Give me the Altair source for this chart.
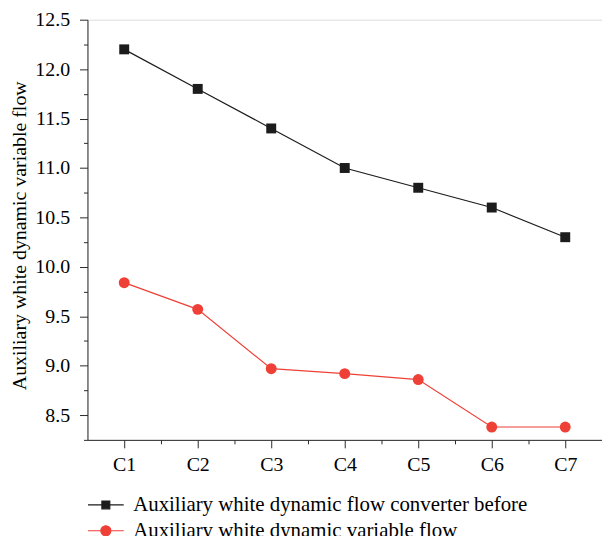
import json
import altair as alt
import pandas as pd

categories = ["C1", "C2", "C3", "C4", "C5", "C6", "C7"]
series_names = [
    "Auxiliary white dynamic flow converter before",
    "Auxiliary white dynamic variable flow",
]
before_values = [12.2, 11.8, 11.4, 11.0, 10.8, 10.6, 10.3]
variable_values = [9.84, 9.57, 8.97, 8.92, 8.86, 8.38, 8.38]
y_major_ticks = [8.5, 9.0, 9.5, 10.0, 10.5, 11.0, 11.5, 12.0, 12.5]
y_minor_ticks = [8.25, 8.75, 9.25, 9.75, 10.25, 10.75, 11.25, 11.75, 12.25]
x_major_ticks = [1, 2, 3, 4, 5, 6, 7]
x_minor_ticks = [1.5, 2.5, 3.5, 4.5, 5.5, 6.5]
colors = ["#1c1c1c", "#ee4037"]
legend_paths = [
    "M-2,0H2M-0.44,-0.44H0.44V0.44H-0.44Z",
    "M-2,0H2M0.56,0A0.56,0.56,0,1,1,-0.56,0A0.56,0.56,0,1,1,0.56,0Z",
]

rows = []
for i, c in enumerate(categories):
    rows.append({"cat": c, "idx": i + 1, "series": series_names[0], "value": before_values[i]})
for i, c in enumerate(categories):
    rows.append({"cat": c, "idx": i + 1, "series": series_names[1], "value": variable_values[i]})
df = pd.DataFrame(rows)

FONT = "Liberation Serif"
AX = "#2a2a2a"

x_scale = alt.Scale(domain=[0.5, 7.5], nice=False, zero=False)
y_scale = alt.Scale(domain=[8.25, 12.5], nice=False, zero=False)

x_major = alt.X(
    "idx:Q", scale=x_scale,
    axis=alt.Axis(values=x_major_ticks, labelExpr=json.dumps(categories) + "[datum.value-1]",
                  tickSize=8, labelPadding=7, labelFont=FONT, labelFontSize=20,
                  labelColor="black", domainColor=AX, tickColor=AX, grid=False, title=None,
                  orient="bottom"),
)
y_major = alt.Y(
    "value:Q", scale=y_scale,
    axis=alt.Axis(values=y_major_ticks, format=".1f", tickSize=8, labelPadding=10,
                  labelFont=FONT, labelFontSize=20, labelColor="black",
                  domainColor=AX, tickColor=AX, grid=False,
                  title="Auxiliary white dynamic variable flow", titleFont=FONT,
                  titleFontSize=20, titleFontWeight="normal", titleColor="black",
                  titlePadding=5, titleY=217, orient="left"),
)
x_minor = alt.X(
    "idx:Q", scale=x_scale,
    axis=alt.Axis(values=x_minor_ticks, tickSize=4, labels=False, domain=False,
                  tickColor=AX, grid=False, title=None, orient="bottom"),
)
y_minor = alt.Y(
    "value:Q", scale=y_scale,
    axis=alt.Axis(values=y_minor_ticks, tickSize=4, labels=False, domain=False,
                  tickColor=AX, grid=False, title=None, orient="left"),
)
x_none = alt.X("idx:Q", scale=x_scale, axis=None)
y_none = alt.Y("value:Q", scale=y_scale, axis=None)

base = alt.Chart(df)
s0 = base.transform_filter(alt.datum.series == series_names[0])
s1 = base.transform_filter(alt.datum.series == series_names[1])

line0 = s0.mark_line(strokeWidth=1.2, color=colors[0]).encode(x=x_major, y=y_major)
line1 = s1.mark_line(strokeWidth=1.2, color=colors[1]).encode(x=x_minor, y=y_minor)
squares = s0.mark_point(shape="square", filled=True, size=100, opacity=1,
                        color=colors[0]).encode(x=x_none, y=y_none)
circles = s1.mark_point(shape="circle", filled=True, size=121, opacity=1,
                        color=colors[1]).encode(x=x_none, y=y_none)

leg = dict(
    orient="none", legendX=8, legendY=478, title=None, symbolSize=324,
    symbolStrokeWidth=1.2, symbolOpacity=1, labelFont=FONT, labelFontSize=21,
    labelColor="black", labelOffset=17, rowPadding=4, padding=0, labelLimit=700,
    direction="vertical",
)

legend_layer = base.mark_point(filled=True, opacity=0).encode(
    x=x_none, y=y_none,
    fill=alt.Fill("series:N", scale=alt.Scale(domain=series_names, range=colors), legend=alt.Legend(**leg)),
    stroke=alt.Stroke("series:N", scale=alt.Scale(domain=series_names, range=colors), legend=alt.Legend(**leg)),
    shape=alt.Shape("series:N", scale=alt.Scale(domain=series_names, range=legend_paths), legend=alt.Legend(**leg)),
)

chart = alt.layer(line0, line1, squares, circles, legend_layer).resolve_axis(
    x="independent", y="independent"
).properties(
    width=518, height=423,
    padding={"left": 80, "top": 10, "right": 0, "bottom": 95},
    autosize=alt.AutoSizeParams(type="none"),
).configure_view(stroke=None).configure(font=FONT)

chart.save("out.html", embed_options={"renderer": "svg", "actions": False})
